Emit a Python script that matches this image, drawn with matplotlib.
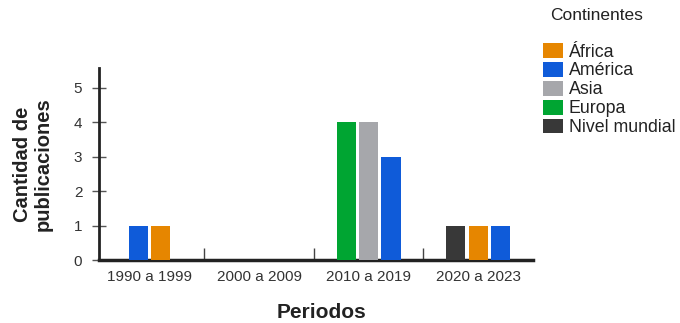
import numpy as np
import matplotlib.pyplot as plt
from matplotlib.patches import Patch

plt.rcParams['font.family'] = ['Liberation Sans', 'DejaVu Sans']

# Data
periods = ["1990 a 1999", "2000 a 2009", "2010 a 2019", "2020 a 2023"]
continents = ["África", "América", "Asia", "Europa", "Nivel mundial"]
continent_colors = ["#E68600", "#0F5BD9", "#A6A7AB", "#00A532", "#383838"]

# bars shown in each period (in drawing order) and their values
group_series = [["América", "África"], [], ["Europa", "Asia", "América"],
                ["Nivel mundial", "África", "América"]]
group_values = [[1, 1], [], [4, 4, 3], [1, 1, 1]]

bar_w = 0.175
step = 0.205
color_of = dict(zip(continents, continent_colors))

fig = plt.figure(figsize=(6.8, 3.23), dpi=100)
ax = fig.add_axes([99 / 680, 1 - 260 / 323, 434 / 680, 192 / 323])

for i, (names, vals) in enumerate(zip(group_series, group_values)):
    n = len(names)
    for j, (name, v) in enumerate(zip(names, vals)):
        x = i + (j - (n - 1) / 2) * step
        ax.bar(x, v, width=bar_w, color=color_of[name], zorder=3)

ax.set_xlim(-0.46, 3.5)
ax.set_ylim(0, 5.57)
ax.set_yticks(range(6))
ax.set_xticks(range(len(periods)))
ax.set_xticklabels(periods)
ax.set_xticks([0.5, 1.5, 2.5], minor=True)

for side in ["top", "right"]:
    ax.spines[side].set_visible(False)
ax.spines["left"].set_linewidth(2)
ax.spines["bottom"].set_linewidth(2.5)
ax.spines["left"].set_color("#222222")
ax.spines["bottom"].set_color("#222222")

ax.tick_params(axis="y", direction="inout", length=10, width=1, color="#555555",
               labelsize=11, labelcolor="#333333", pad=7)
ax.tick_params(axis="x", which="major", length=0, labelsize=11, labelcolor="#333333", pad=7)
ax.tick_params(axis="x", which="minor", direction="in", length=9, width=1, color="#444444")

fig.text(33 / 680, 1 - 164 / 323, "Cantidad de\npublicaciones", rotation=90,
         ha="center", va="center", fontsize=14.5, fontweight="bold", color="#222222",
         linespacing=1.1)
fig.text(322 / 680, 1 - 312 / 323, "Periodos", ha="center", va="center",
         fontsize=15, fontweight="bold", color="#222222")

fig.text(550 / 680, 1 - 15 / 323, "Continentes", ha="left", va="center",
         fontsize=12.5, color="#222222")
handles = [Patch(facecolor=c, edgecolor="none") for c in continent_colors]
fig.legend(handles, continents, loc="upper left", bbox_to_anchor=(543 / 680, 1 - 43 / 323),
           frameon=False, fontsize=12.8, handlelength=1.15, handleheight=0.9,
           handletextpad=0.3, labelspacing=0.08, borderpad=0, borderaxespad=0,
           labelcolor="#222222")

fig.savefig("out.png", dpi=100)
